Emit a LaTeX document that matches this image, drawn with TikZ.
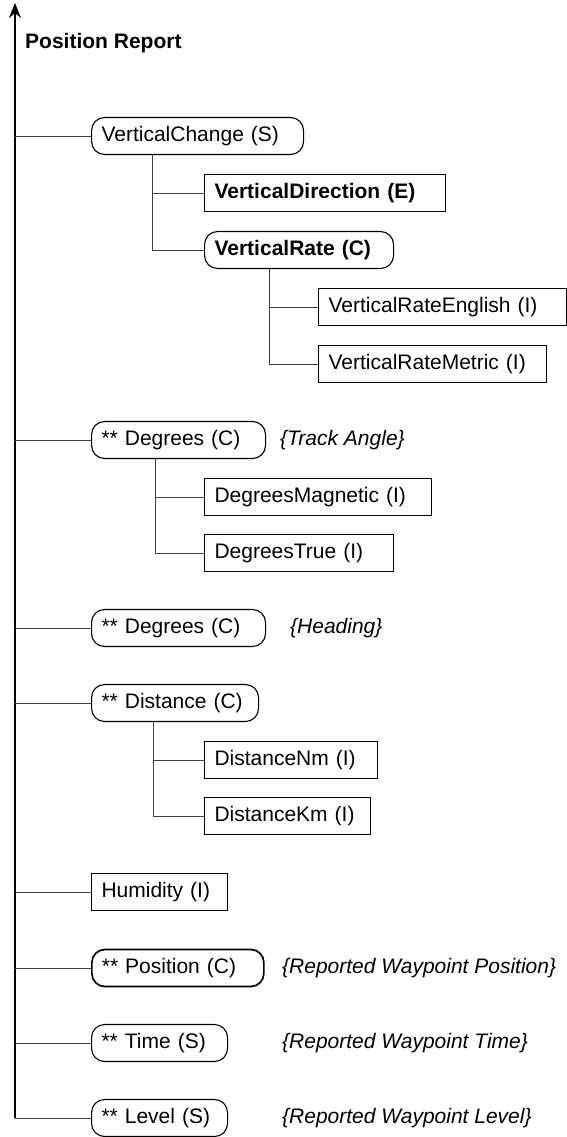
\documentclass[tikz,border=0pt]{standalone}
\usepackage{fontspec}
\setmainfont{Liberation Sans}
\usepackage{tikz}
\usetikzlibrary{arrows.meta}

\newcommand{\boxfont}{\fontsize{21}{25}\selectfont}

\begin{document}
\begin{tikzpicture}[x=1pt, y=-1pt,
    ibox/.style={draw, line width=1.1pt, anchor=west, minimum height=37pt, text width=#1, align=left, inner xsep=10pt, inner ysep=0pt, font=\boxfont},
    cbox/.style={ibox=#1, rounded corners=13pt},
    link/.style={line width=0.9pt, draw=black!75},
    note/.style={anchor=west, inner sep=0pt, font=\boxfont\itshape}]

\useasboundingbox (0,0) rectangle (567,1137);

% spine

\coordinate (top) at (15,3);
\coordinate (bot) at (15,1118);
\draw[line width=1.8pt, -{Stealth[length=15pt, width=12pt, inset=5pt]}] (bot) -- (top);

\node[anchor=west, inner sep=0pt, font=\boxfont\bfseries] (title) at (25,43) {Position Report};

% vertical change

\node[cbox=192] (vc) at (91,136) {VerticalChange (S)};
\node[ibox=221, font=\boxfont\bfseries] (vd) at (204,193) {VerticalDirection (E)};
\node[cbox=169, font=\boxfont\bfseries] (vr) at (204,250) {VerticalRate (C)};
\node[ibox=228] (vre) at (318,307) {VerticalRateEnglish (I)};
\node[ibox=208] (vrm) at (318,364) {VerticalRateMetric (I)};

% degrees

\node[cbox=154] (dta) at (91,440) {** Degrees (C)};
\node[note] (dtanote) at (280,440) {\{Track Angle\}};
\node[ibox=207] (dm) at (204,497) {DegreesMagnetic (I)};
\node[ibox=169] (dt) at (204,553) {DegreesTrue (I)};

\node[cbox=154] (dh) at (91,628) {** Degrees (C)};
\node[note] (dhnote) at (290,628) {\{Heading\}};

% distance

\node[cbox=147] (di) at (91,703) {** Distance (C)};
\node[ibox=153] (dnm) at (204,760) {DistanceNm (I)};
\node[ibox=146] (dkm) at (204,816) {DistanceKm (I)};

% the rest

\node[ibox=116] (hu) at (91,892) {Humidity (I)};
\node[cbox=152, line width=1.7pt] (po) at (91,968) {** Position (C)};
\node[note] (ponote) at (282,968) {\{Reported Waypoint Position\}};
\node[cbox=116] (ti) at (91,1043) {** Time (S)};
\node[note] (tinote) at (282,1043) {\{Reported Waypoint Time\}};
\node[cbox=116] (le) at (91,1118) {** Level (S)};
\node[note] (lenote) at (282,1118) {\{Reported Waypoint Level\}};

% spine to children

\draw[link] (vc.west -| top) -- (vc.west);
\draw[link] (dta.west -| top) -- (dta.west);
\draw[link] (dh.west -| top) -- (dh.west);
\draw[link] (di.west -| top) -- (di.west);
\draw[link] (hu.west -| top) -- (hu.west);
\draw[link] (po.west -| top) -- (po.west);
\draw[link] (ti.west -| top) -- (ti.west);
\draw[link] (bot) -- (le.west);

% branches

\coordinate (vcb) at ([xshift=61pt]vc.south west);
\draw[link] (vcb) |- (vd.west);
\draw[link] (vcb) |- (vr.west);

\coordinate (vrb) at ([xshift=65pt]vr.south west);
\draw[link] (vrb) |- (vre.west);
\draw[link] (vrb) |- (vrm.west);

\coordinate (dtab) at ([xshift=64pt]dta.south west);
\draw[link] (dtab) |- (dm.west);
\draw[link] (dtab) |- (dt.west);

\coordinate (dib) at ([xshift=62pt]di.south west);
\draw[link] (dib) |- (dnm.west);
\draw[link] (dib) |- (dkm.west);

\end{tikzpicture}
\end{document}
